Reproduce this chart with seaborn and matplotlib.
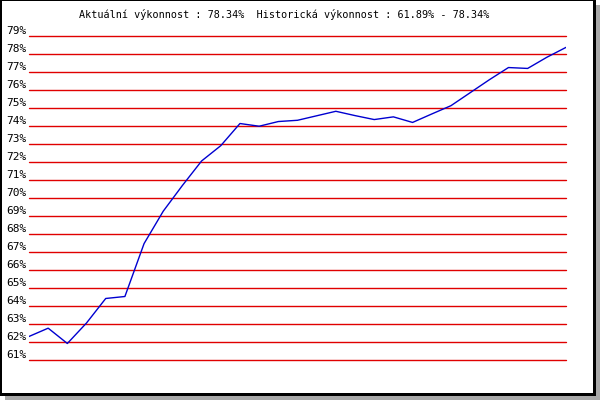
import matplotlib
matplotlib.use("Agg")
import matplotlib.pyplot as plt
from matplotlib.patches import Rectangle
import seaborn as sns
import pandas as pd

# data
values = [62.28, 62.74, 61.89, 63.03, 64.39, 64.50, 67.44, 69.24, 70.67, 72.03,
          72.88, 74.11, 73.96, 74.22, 74.29, 74.54, 74.79, 74.55, 74.33, 74.48,
          74.17, 74.64, 75.10, 75.82, 76.54, 77.22, 77.17, 77.79, 78.34]
ticks = list(range(61, 80))
tick_labels = [f"{t}%" for t in ticks]
title = "Aktuální výkonnost : 78.34%  Historická výkonnost : 61.89% - 78.34%"

df = pd.DataFrame({"i": range(len(values)), "v": values})

sns.set_theme(style="white")
plt.rcParams["font.family"] = ["DejaVu Sans Mono", "DejaVu Sans"]

W, H = 600, 400
fig = plt.figure(figsize=(6, 4), dpi=100, facecolor="white")

def rect(x0, y0, x1, y1, color, z):
    # image pixel coords (y down) -> figure fraction
    fig.add_artist(Rectangle((x0 / W, 1 - y1 / H), (x1 - x0) / W, (y1 - y0) / H,
                             transform=fig.transFigure, facecolor=color,
                             edgecolor="none", zorder=z))

rect(5, 5, 600, 400, "#a8a8a8", -3)
rect(0, 0, 596, 396, "black", -2)
rect(2, 1, 593, 393, "white", -1)

left, right = 29, 566
top, bottom = 35.5, 359.5
ax = fig.add_axes([left / W, 1 - bottom / H, (right - left) / W, (bottom - top) / H])
ax.set_facecolor("none")
ax.set_zorder(1)

for t in ticks:
    ax.axhline(t, color="#e00000", lw=1.0, zorder=1, clip_on=False)

sns.lineplot(data=df, x="i", y="v", ax=ax, color="#0000d0", lw=1.0, zorder=3)

ax.set_xlim(0, len(values) - 1)
ax.set_ylim(61, 79)
ax.set_xticks([])
ax.set_yticks(ticks)
ax.set_yticklabels(tick_labels, fontsize=8, va="bottom", color="black")
ax.tick_params(axis="y", length=0, pad=2)
ax.set_xlabel("")
ax.set_ylabel("")
for s in ax.spines.values():
    s.set_visible(False)
ax.grid(False)
ax.patch.set_alpha(0)

fig.text(284 / W, 1 - 14 / H, title, ha="center", va="center", fontsize=7.3,
         color="black", family=["DejaVu Sans Mono", "DejaVu Sans"])

fig.savefig("out.png", dpi=100)
